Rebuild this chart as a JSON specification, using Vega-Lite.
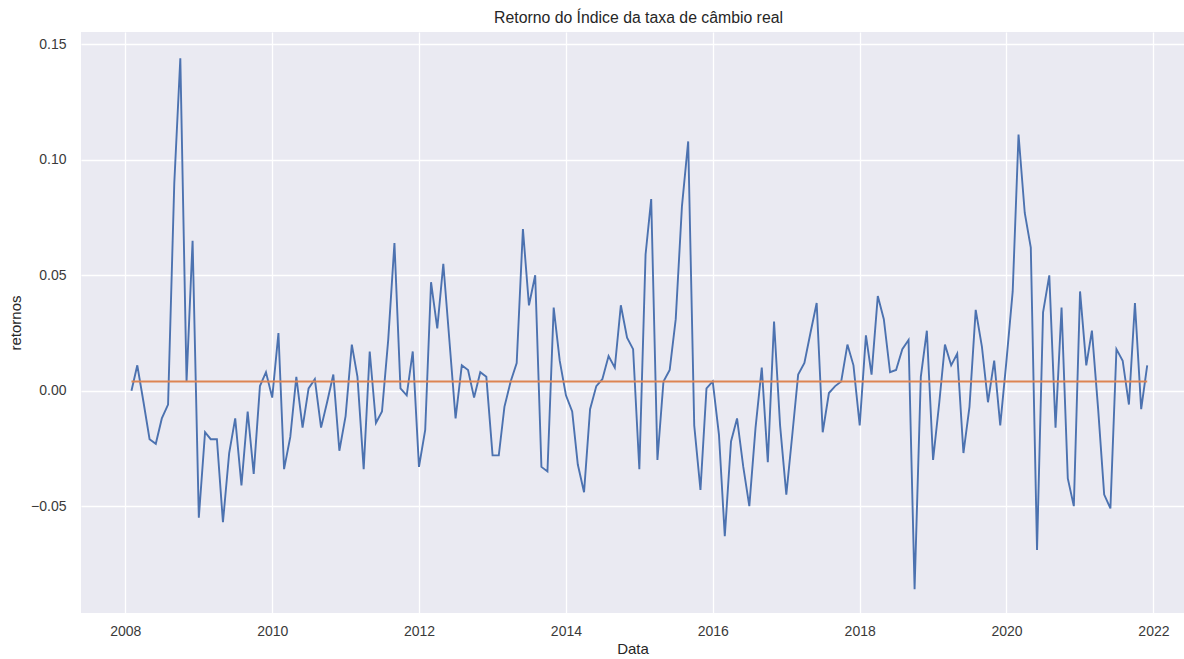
{
  "$schema": "https://vega.github.io/schema/vega-lite/v6.json",
  "width": 1103,
  "height": 581,
  "autosize": {"type": "none"},
  "padding": {"left": 81, "top": 32, "right": 0, "bottom": 46},
  "background": "white",
  "title": {
    "text": "Retorno do Índice da taxa de câmbio real",
    "fontSize": 15.8,
    "fontWeight": "normal",
    "font": "Liberation Sans",
    "color": "#262626",
    "anchor": "middle",
    "dx": 6,
    "offset": 5
  },
  "config": {
    "view": {"fill": "#EAEAF2", "stroke": null},
    "axis": {
      "domain": false,
      "ticks": false,
      "grid": true,
      "gridColor": "#FFFFFF",
      "gridWidth": 1.3,
      "labelFont": "Liberation Sans",
      "labelFontSize": 14,
      "labelColor": "#3a3a3a",
      "titleFont": "Liberation Sans",
      "titleFontSize": 15,
      "titleFontWeight": "normal",
      "titleColor": "#262626"
    }
  },
  "data": {
    "values": [
      {"Data": "2008-02-01", "retorno": 0.000},
      {"Data": "2008-03-01", "retorno": 0.011},
      {"Data": "2008-04-01", "retorno": -0.005},
      {"Data": "2008-05-01", "retorno": -0.021},
      {"Data": "2008-06-01", "retorno": -0.023},
      {"Data": "2008-07-01", "retorno": -0.012},
      {"Data": "2008-08-01", "retorno": -0.006},
      {"Data": "2008-09-01", "retorno": 0.090},
      {"Data": "2008-10-01", "retorno": 0.144},
      {"Data": "2008-11-01", "retorno": 0.004},
      {"Data": "2008-12-01", "retorno": 0.065},
      {"Data": "2009-01-01", "retorno": -0.055},
      {"Data": "2009-02-01", "retorno": -0.018},
      {"Data": "2009-03-01", "retorno": -0.021},
      {"Data": "2009-04-01", "retorno": -0.021},
      {"Data": "2009-05-01", "retorno": -0.057},
      {"Data": "2009-06-01", "retorno": -0.027},
      {"Data": "2009-07-01", "retorno": -0.012},
      {"Data": "2009-08-01", "retorno": -0.041},
      {"Data": "2009-09-01", "retorno": -0.009},
      {"Data": "2009-10-01", "retorno": -0.036},
      {"Data": "2009-11-01", "retorno": 0.002},
      {"Data": "2009-12-01", "retorno": 0.008},
      {"Data": "2010-01-01", "retorno": -0.003},
      {"Data": "2010-02-01", "retorno": 0.025},
      {"Data": "2010-03-01", "retorno": -0.034},
      {"Data": "2010-04-01", "retorno": -0.020},
      {"Data": "2010-05-01", "retorno": 0.006},
      {"Data": "2010-06-01", "retorno": -0.016},
      {"Data": "2010-07-01", "retorno": 0.001},
      {"Data": "2010-08-01", "retorno": 0.005},
      {"Data": "2010-09-01", "retorno": -0.016},
      {"Data": "2010-10-01", "retorno": -0.005},
      {"Data": "2010-11-01", "retorno": 0.007},
      {"Data": "2010-12-01", "retorno": -0.026},
      {"Data": "2011-01-01", "retorno": -0.011},
      {"Data": "2011-02-01", "retorno": 0.020},
      {"Data": "2011-03-01", "retorno": 0.006},
      {"Data": "2011-04-01", "retorno": -0.034},
      {"Data": "2011-05-01", "retorno": 0.017},
      {"Data": "2011-06-01", "retorno": -0.014},
      {"Data": "2011-07-01", "retorno": -0.009},
      {"Data": "2011-08-01", "retorno": 0.022},
      {"Data": "2011-09-01", "retorno": 0.064},
      {"Data": "2011-10-01", "retorno": 0.001},
      {"Data": "2011-11-01", "retorno": -0.002},
      {"Data": "2011-12-01", "retorno": 0.017},
      {"Data": "2012-01-01", "retorno": -0.033},
      {"Data": "2012-02-01", "retorno": -0.017},
      {"Data": "2012-03-01", "retorno": 0.047},
      {"Data": "2012-04-01", "retorno": 0.027},
      {"Data": "2012-05-01", "retorno": 0.055},
      {"Data": "2012-06-01", "retorno": 0.021},
      {"Data": "2012-07-01", "retorno": -0.012},
      {"Data": "2012-08-01", "retorno": 0.011},
      {"Data": "2012-09-01", "retorno": 0.009},
      {"Data": "2012-10-01", "retorno": -0.003},
      {"Data": "2012-11-01", "retorno": 0.008},
      {"Data": "2012-12-01", "retorno": 0.006},
      {"Data": "2013-01-01", "retorno": -0.028},
      {"Data": "2013-02-01", "retorno": -0.028},
      {"Data": "2013-03-01", "retorno": -0.007},
      {"Data": "2013-04-01", "retorno": 0.004},
      {"Data": "2013-05-01", "retorno": 0.012},
      {"Data": "2013-06-01", "retorno": 0.070},
      {"Data": "2013-07-01", "retorno": 0.037},
      {"Data": "2013-08-01", "retorno": 0.050},
      {"Data": "2013-09-01", "retorno": -0.033},
      {"Data": "2013-10-01", "retorno": -0.035},
      {"Data": "2013-11-01", "retorno": 0.036},
      {"Data": "2013-12-01", "retorno": 0.013},
      {"Data": "2014-01-01", "retorno": -0.002},
      {"Data": "2014-02-01", "retorno": -0.009},
      {"Data": "2014-03-01", "retorno": -0.032},
      {"Data": "2014-04-01", "retorno": -0.044},
      {"Data": "2014-05-01", "retorno": -0.008},
      {"Data": "2014-06-01", "retorno": 0.002},
      {"Data": "2014-07-01", "retorno": 0.005},
      {"Data": "2014-08-01", "retorno": 0.015},
      {"Data": "2014-09-01", "retorno": 0.010},
      {"Data": "2014-10-01", "retorno": 0.037},
      {"Data": "2014-11-01", "retorno": 0.023},
      {"Data": "2014-12-01", "retorno": 0.018},
      {"Data": "2015-01-01", "retorno": -0.034},
      {"Data": "2015-02-01", "retorno": 0.059},
      {"Data": "2015-03-01", "retorno": 0.083},
      {"Data": "2015-04-01", "retorno": -0.030},
      {"Data": "2015-05-01", "retorno": 0.004},
      {"Data": "2015-06-01", "retorno": 0.009},
      {"Data": "2015-07-01", "retorno": 0.031},
      {"Data": "2015-08-01", "retorno": 0.080},
      {"Data": "2015-09-01", "retorno": 0.108},
      {"Data": "2015-10-01", "retorno": -0.015},
      {"Data": "2015-11-01", "retorno": -0.043},
      {"Data": "2015-12-01", "retorno": 0.001},
      {"Data": "2016-01-01", "retorno": 0.004},
      {"Data": "2016-02-01", "retorno": -0.019},
      {"Data": "2016-03-01", "retorno": -0.063},
      {"Data": "2016-04-01", "retorno": -0.022},
      {"Data": "2016-05-01", "retorno": -0.012},
      {"Data": "2016-06-01", "retorno": -0.033},
      {"Data": "2016-07-01", "retorno": -0.050},
      {"Data": "2016-08-01", "retorno": -0.016},
      {"Data": "2016-09-01", "retorno": 0.010},
      {"Data": "2016-10-01", "retorno": -0.031},
      {"Data": "2016-11-01", "retorno": 0.030},
      {"Data": "2016-12-01", "retorno": -0.015},
      {"Data": "2017-01-01", "retorno": -0.045},
      {"Data": "2017-02-01", "retorno": -0.018},
      {"Data": "2017-03-01", "retorno": 0.007},
      {"Data": "2017-04-01", "retorno": 0.012},
      {"Data": "2017-05-01", "retorno": 0.025},
      {"Data": "2017-06-01", "retorno": 0.038},
      {"Data": "2017-07-01", "retorno": -0.018},
      {"Data": "2017-08-01", "retorno": -0.001},
      {"Data": "2017-09-01", "retorno": 0.002},
      {"Data": "2017-10-01", "retorno": 0.004},
      {"Data": "2017-11-01", "retorno": 0.020},
      {"Data": "2017-12-01", "retorno": 0.011},
      {"Data": "2018-01-01", "retorno": -0.015},
      {"Data": "2018-02-01", "retorno": 0.024},
      {"Data": "2018-03-01", "retorno": 0.007},
      {"Data": "2018-04-01", "retorno": 0.041},
      {"Data": "2018-05-01", "retorno": 0.031},
      {"Data": "2018-06-01", "retorno": 0.008},
      {"Data": "2018-07-01", "retorno": 0.009},
      {"Data": "2018-08-01", "retorno": 0.018},
      {"Data": "2018-09-01", "retorno": 0.022},
      {"Data": "2018-10-01", "retorno": -0.086},
      {"Data": "2018-11-01", "retorno": 0.006},
      {"Data": "2018-12-01", "retorno": 0.026},
      {"Data": "2019-01-01", "retorno": -0.030},
      {"Data": "2019-02-01", "retorno": -0.005},
      {"Data": "2019-03-01", "retorno": 0.020},
      {"Data": "2019-04-01", "retorno": 0.011},
      {"Data": "2019-05-01", "retorno": 0.016},
      {"Data": "2019-06-01", "retorno": -0.027},
      {"Data": "2019-07-01", "retorno": -0.007},
      {"Data": "2019-08-01", "retorno": 0.035},
      {"Data": "2019-09-01", "retorno": 0.019},
      {"Data": "2019-10-01", "retorno": -0.005},
      {"Data": "2019-11-01", "retorno": 0.013},
      {"Data": "2019-12-01", "retorno": -0.015},
      {"Data": "2020-01-01", "retorno": 0.013},
      {"Data": "2020-02-01", "retorno": 0.043},
      {"Data": "2020-03-01", "retorno": 0.111},
      {"Data": "2020-04-01", "retorno": 0.077},
      {"Data": "2020-05-01", "retorno": 0.062},
      {"Data": "2020-06-01", "retorno": -0.069},
      {"Data": "2020-07-01", "retorno": 0.034},
      {"Data": "2020-08-01", "retorno": 0.050},
      {"Data": "2020-09-01", "retorno": -0.016},
      {"Data": "2020-10-01", "retorno": 0.036},
      {"Data": "2020-11-01", "retorno": -0.038},
      {"Data": "2020-12-01", "retorno": -0.050},
      {"Data": "2021-01-01", "retorno": 0.043},
      {"Data": "2021-02-01", "retorno": 0.011},
      {"Data": "2021-03-01", "retorno": 0.026},
      {"Data": "2021-04-01", "retorno": -0.008},
      {"Data": "2021-05-01", "retorno": -0.045},
      {"Data": "2021-06-01", "retorno": -0.051},
      {"Data": "2021-07-01", "retorno": 0.018},
      {"Data": "2021-08-01", "retorno": 0.013},
      {"Data": "2021-09-01", "retorno": -0.006},
      {"Data": "2021-10-01", "retorno": 0.038},
      {"Data": "2021-11-01", "retorno": -0.008},
      {"Data": "2021-12-01", "retorno": 0.011}
    ]
  },
  "layer": [
    {
      "mark": {"type": "line", "color": "#4C72B0", "strokeWidth": 1.9, "clip": true},
      "encoding": {
        "x": {
          "field": "Data",
          "type": "temporal",
          "title": "Data",
          "scale": {
            "type": "utc",
            "domain": [
              {"year": 2007, "month": 5, "date": 26, "utc": true},
              {"year": 2022, "month": 6, "date": 2, "utc": true}
            ],
            "nice": false
          },
          "axis": {
            "format": "%Y",
            "formatType": "utc",
            "values": [
              {"year": 2008, "month": 1, "date": 1, "utc": true},
              {"year": 2010, "month": 1, "date": 1, "utc": true},
              {"year": 2012, "month": 1, "date": 1, "utc": true},
              {"year": 2014, "month": 1, "date": 1, "utc": true},
              {"year": 2016, "month": 1, "date": 1, "utc": true},
              {"year": 2018, "month": 1, "date": 1, "utc": true},
              {"year": 2020, "month": 1, "date": 1, "utc": true},
              {"year": 2022, "month": 1, "date": 1, "utc": true}
            ],
            "labelPadding": 11,
            "titlePadding": 3
          }
        },
        "y": {
          "field": "retorno",
          "type": "quantitative",
          "title": "retornos",
          "scale": {"domain": [-0.0963, 0.1554], "nice": false, "zero": false},
          "axis": {
            "values": [-0.05, 0, 0.05, 0.1, 0.15],
            "format": ".2f",
            "labelPadding": 15,
            "titlePadding": 7
          }
        }
      }
    },
    {
      "mark": {"type": "rule", "color": "#DD8452", "strokeWidth": 1.9},
      "encoding": {
        "x": {"aggregate": "min", "field": "Data", "type": "temporal"},
        "x2": {"aggregate": "max", "field": "Data"},
        "y": {"aggregate": "mean", "field": "retorno", "type": "quantitative"}
      }
    }
  ]
}
